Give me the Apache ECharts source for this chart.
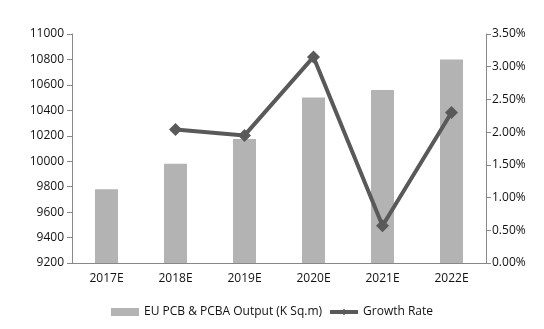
<!DOCTYPE html>
<html><head><meta charset="utf-8">
<script src="https://cdn.jsdelivr.net/npm/echarts@6/dist/echarts.min.js"></script>
<style>html,body{margin:0;padding:0;background:#fff}#c{width:544px;height:329px}</style>
</head><body><div id="c"></div>
<script>
const categories = ['2017E','2018E','2019E','2020E','2021E','2022E'];
const outputValues = [9780, 9980, 10175, 10500, 10560, 10800];
const growthRate = [null, 2.04, 1.95, 3.15, 0.57, 2.30];
const leftTicks = [9200, 11000, 200];
const rightTicks = [0, 3.5, 0.5];

const font = 'Open Sans';
const chart = echarts.init(document.getElementById('c'));
chart.setOption({
  animation: false,
  textStyle: {fontFamily: font},
  grid: {left: 72, right: 58, top: 34, bottom: 66},
  legend: {
    bottom: 6, left: 'center', itemGap: 6,
    textStyle: {fontFamily: font, fontSize: 12, color: '#111'},
    data: [
      {name: 'EU PCB & PCBA Output (K Sq.m)', icon: 'rect', itemStyle: {color: '#b3b3b3'}},
      {name: 'Growth Rate', lineStyle: {width: 4, color: '#595959'}}
    ],
    itemWidth: 28, itemHeight: 8
  },
  xAxis: {
    type: 'category', data: categories,
    axisLine: {lineStyle: {color: '#888'}},
    axisTick: {inside: true, length: 5, lineStyle: {color: '#888'}},
    axisLabel: {color: '#111', fontSize: 12, margin: 10, fontFamily: font}
  },
  yAxis: [{
    type: 'value', min: leftTicks[0], max: leftTicks[1], interval: leftTicks[2],
    axisLine: {show: true, lineStyle: {color: '#888'}},
    axisTick: {show: true, length: 5, lineStyle: {color: '#888'}},
    splitLine: {show: false},
    axisLabel: {color: '#111', fontSize: 12, margin: 8, fontFamily: font,
      formatter: v => String(v)}
  }, {
    type: 'value', min: rightTicks[0], max: rightTicks[1], interval: rightTicks[2],
    position: 'right',
    axisLine: {show: true, lineStyle: {color: '#888'}},
    axisTick: {show: true, length: 5, lineStyle: {color: '#888'}},
    splitLine: {show: false},
    axisLabel: {color: '#111', fontSize: 12, margin: 6, fontFamily: font,
      formatter: v => v.toFixed(2) + '%'}
  }],
  series: [{
    name: 'EU PCB & PCBA Output (K Sq.m)', type: 'bar', data: outputValues,
    barWidth: 23, itemStyle: {color: '#b3b3b3'}
  }, {
    name: 'Growth Rate', type: 'line', yAxisIndex: 1, data: growthRate,
    symbol: 'diamond', symbolSize: 13, showSymbol: true,
    lineStyle: {color: '#595959', width: 4},
    itemStyle: {color: '#595959'}
  }]
});
</script></body></html>
